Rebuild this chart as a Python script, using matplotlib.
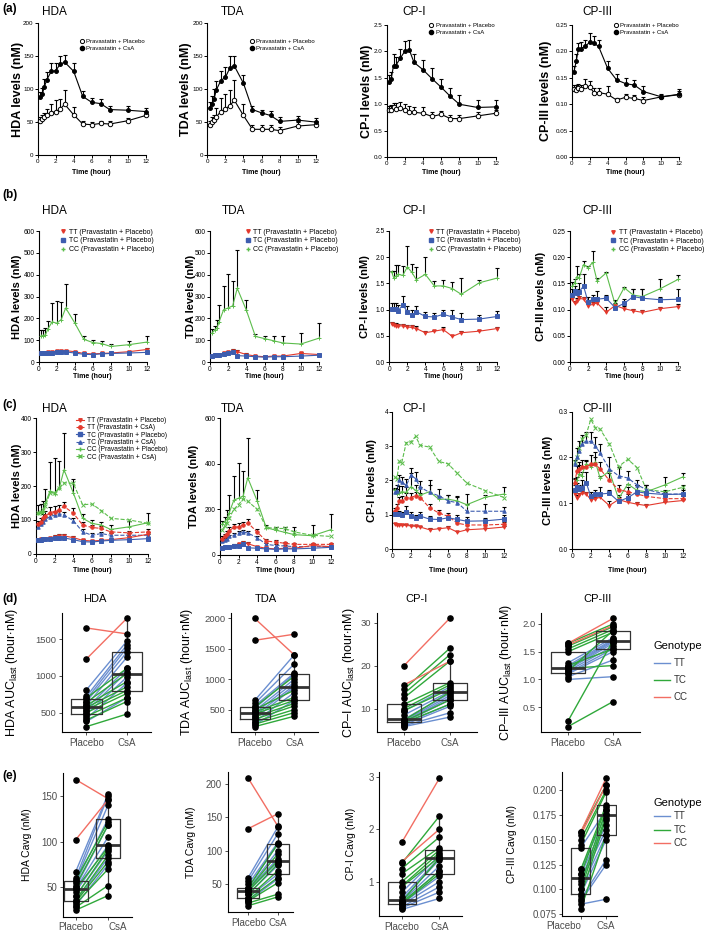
import numpy as np
import matplotlib.pyplot as plt
from matplotlib.lines import Line2D
from matplotlib.ticker import FormatStrFormatter

plt.rcParams['font.family'] = ['Liberation Sans', 'DejaVu Sans']
plt.rcParams['mathtext.fontset'] = 'custom'
plt.rcParams['mathtext.rm'] = 'Liberation Sans'

W, H = 709, 935

# ---------------- time course data ----------------
hours = [0.25, 0.5, 0.75, 1, 1.5, 2, 2.5, 3, 4, 5, 6, 7, 8, 10, 12]

# (a) all subjects: mean and upper SD
hda_plc = [51, 54, 58, 60, 64, 66, 70, 77, 61, 47, 46, 48, 47, 52, 60]
hda_plc_sd = [6, 6, 6, 10, 14, 17, 15, 21, 12, 5, 4, 4, 4, 4, 3]
hda_csa = [88, 92, 104, 114, 127, 128, 138, 141, 127, 89, 80, 78, 69, 68, 66]
hda_csa_sd = [8, 9, 11, 12, 13, 12, 13, 11, 13, 8, 7, 7, 6, 6, 6]

tda_plc = [46, 50, 53, 58, 66, 70, 75, 83, 60, 39, 39, 39, 37, 44, 46]
tda_plc_sd = [5, 7, 8, 14, 20, 22, 24, 31, 17, 7, 7, 7, 6, 6, 6]
tda_csa = [72, 77, 85, 99, 113, 118, 132, 135, 109, 69, 64, 60, 51, 53, 50]
tda_csa_sd = [8, 12, 15, 14, 14, 16, 18, 15, 13, 6, 5, 7, 7, 6, 6]

cp1_plc = [0.90, 0.90, 0.94, 0.92, 0.93, 0.90, 0.85, 0.85, 0.83, 0.77, 0.81, 0.73, 0.73, 0.78, 0.83]
cp1_plc_sd = [0.07, 0.09, 0.08, 0.10, 0.11, 0.10, 0.11, 0.10, 0.12, 0.08, 0.07, 0.07, 0.07, 0.07, 0.06]
cp1_csa = [1.42, 1.48, 1.73, 1.73, 1.87, 2.00, 2.02, 1.79, 1.65, 1.48, 1.32, 1.15, 1.00, 0.94, 0.95]
cp1_csa_sd = [0.13, 0.13, 0.22, 0.17, 0.18, 0.19, 0.19, 0.16, 0.18, 0.20, 0.16, 0.16, 0.17, 0.14, 0.13]

cp3_plc = [0.128, 0.127, 0.130, 0.128, 0.134, 0.132, 0.122, 0.122, 0.119, 0.108, 0.113, 0.111, 0.107, 0.114, 0.118]
cp3_plc_sd = [0.008, 0.009, 0.009, 0.008, 0.013, 0.011, 0.008, 0.008, 0.015, 0.003, 0.006, 0.006, 0.006, 0.005, 0.007]
cp3_csa = [0.161, 0.181, 0.204, 0.205, 0.209, 0.217, 0.215, 0.209, 0.168, 0.146, 0.139, 0.136, 0.124, 0.114, 0.119]
cp3_csa_sd = [0.011, 0.014, 0.012, 0.013, 0.013, 0.017, 0.014, 0.013, 0.014, 0.011, 0.011, 0.010, 0.010, 0.003, 0.009]

# (b) by genotype, placebo phase
hda_tt = [42, 43, 44, 45, 47, 50, 52, 53, 48, 40, 38, 40, 42, 48, 58]
hda_tt_sd = [3, 3, 3, 3, 4, 6, 6, 5, 4, 3, 3, 3, 3, 4, 6]
hda_tc = [40, 42, 43, 44, 44, 46, 48, 47, 42, 36, 35, 38, 40, 42, 45]
hda_tc_sd = [3, 3, 3, 3, 3, 4, 4, 4, 3, 3, 3, 3, 3, 3, 4]
hda_cc = [120, 122, 125, 150, 185, 178, 195, 248, 180, 105, 90, 85, 72, 80, 92]
hda_cc_sd = [25, 26, 30, 40, 87, 104, 80, 110, 42, 13, 10, 10, 13, 18, 30]

tda_tt = [30, 32, 34, 35, 40, 45, 50, 48, 35, 28, 25, 28, 28, 40, 35]
tda_tt_sd = [3, 3, 3, 4, 6, 8, 10, 8, 5, 3, 3, 3, 3, 5, 4]
tda_tc = [30, 32, 33, 34, 38, 40, 45, 30, 28, 25, 23, 25, 25, 28, 32]
tda_tc_sd = [3, 3, 3, 3, 5, 6, 8, 5, 3, 3, 3, 3, 3, 3, 3]
tda_cc = [135, 145, 155, 185, 240, 248, 258, 338, 238, 118, 108, 98, 88, 83, 110]
tda_cc_sd = [15, 20, 40, 77, 108, 154, 112, 177, 47, 12, 12, 24, 32, 49, 70]

cp1_tt = [0.73, 0.70, 0.69, 0.69, 0.69, 0.67, 0.66, 0.64, 0.56, 0.59, 0.62, 0.49, 0.56, 0.59, 0.64]
cp1_tt_sd = [0.04, 0.04, 0.05, 0.04, 0.04, 0.04, 0.04, 0.04, 0.04, 0.03, 0.04, 0.03, 0.03, 0.03, 0.03]
cp1_tc = [1.01, 1.01, 1.02, 0.98, 1.09, 0.96, 0.89, 0.96, 0.87, 0.86, 0.91, 0.86, 0.81, 0.82, 0.87]
cp1_tc_sd = [0.11, 0.11, 0.10, 0.10, 0.16, 0.11, 0.10, 0.11, 0.08, 0.08, 0.09, 0.14, 0.12, 0.08, 0.11]
cp1_cc = [1.72, 1.60, 1.64, 1.67, 1.65, 1.81, 1.71, 1.57, 1.67, 1.45, 1.45, 1.40, 1.29, 1.51, 1.60]
cp1_cc_sd = [0.02, 0.14, 0.20, 0.17, 0.17, 0.40, 0.15, 0.24, 0.33, 0.10, 0.12, 0.12, 0.31, 0.05, 0.20]

cp3_tt = [0.120, 0.112, 0.117, 0.122, 0.120, 0.108, 0.110, 0.113, 0.095, 0.108, 0.102, 0.098, 0.095, 0.102, 0.106]
cp3_tt_sd = [0.005, 0.005, 0.006, 0.005, 0.005, 0.005, 0.004, 0.005, 0.010, 0.005, 0.005, 0.004, 0.004, 0.003, 0.004]
cp3_tc = [0.128, 0.135, 0.132, 0.134, 0.145, 0.115, 0.120, 0.120, 0.122, 0.104, 0.112, 0.125, 0.122, 0.119, 0.120]
cp3_tc_sd = [0.012, 0.010, 0.008, 0.016, 0.023, 0.010, 0.008, 0.015, 0.006, 0.006, 0.008, 0.015, 0.018, 0.006, 0.020]
cp3_cc = [0.145, 0.150, 0.163, 0.160, 0.186, 0.180, 0.190, 0.155, 0.170, 0.110, 0.142, 0.128, 0.125, 0.140, 0.158]
cp3_cc_sd = [0.007, 0.008, 0.021, 0.008, 0.007, 0.003, 0.021, 0.005, 0.001, 0.008, 0.001, 0.012, 0.015, 0.018, 0.008]

# (c) by genotype, CsA phase (placebo phase reused from (b))
hda_tt_csa = [88, 95, 105, 112, 122, 125, 130, 140, 120, 85, 78, 75, 65, 62, 65]
hda_tt_csa_sd = [10, 12, 12, 15, 15, 15, 14, 12, 15, 10, 8, 8, 7, 6, 8]
hda_tc_csa = [80, 88, 95, 102, 110, 115, 118, 115, 98, 65, 55, 60, 55, 55, 55]
hda_tc_csa_sd = [5, 6, 6, 8, 8, 8, 8, 8, 8, 8, 6, 6, 6, 6, 5]
hda_cc_csa = [122, 125, 130, 140, 180, 180, 195, 210, 208, 145, 147, 128, 105, 100, 90]

tda_tt_csa = [70, 80, 90, 105, 120, 122, 130, 140, 100, 60, 55, 50, 45, 45, 45]
tda_tt_csa_sd = [10, 12, 14, 15, 15, 15, 15, 15, 14, 8, 8, 7, 6, 6, 6]
tda_tc_csa = [60, 65, 70, 80, 85, 95, 100, 95, 75, 45, 40, 38, 35, 35, 35]
tda_tc_csa_sd = [6, 6, 8, 8, 8, 10, 10, 10, 8, 6, 5, 5, 5, 5, 5]
tda_cc_csa = [110, 125, 140, 160, 200, 220, 245, 235, 200, 120, 115, 115, 100, 85, 80]

cp1_tt_csa = [1.10, 1.20, 1.40, 1.40, 1.50, 1.50, 1.55, 1.50, 1.20, 1.05, 0.95, 0.75, 0.70, 0.70, 0.72]
cp1_tt_csa_sd = [0.10, 0.12, 0.12, 0.14, 0.14, 0.12, 0.12, 0.12, 0.12, 0.10, 0.10, 0.08, 0.08, 0.08, 0.08]
cp1_tc_csa = [1.65, 1.70, 2.00, 1.95, 1.85, 2.15, 2.05, 1.80, 1.65, 1.55, 1.40, 1.35, 1.10, 1.10, 1.10]
cp1_tc_csa_sd = [0.12, 0.15, 0.15, 0.15, 0.20, 0.20, 0.20, 0.18, 0.20, 0.20, 0.18, 0.18, 0.20, 0.20, 0.12]
cp1_cc_csa = [2.10, 2.05, 2.55, 2.50, 3.10, 3.12, 3.28, 3.02, 2.97, 2.55, 2.48, 2.20, 1.92, 1.70, 1.50]

cp3_tt_csa = [0.145, 0.170, 0.175, 0.180, 0.180, 0.185, 0.185, 0.175, 0.150, 0.130, 0.125, 0.120, 0.115, 0.110, 0.110]
cp3_tt_csa_sd = [0.010, 0.012, 0.015, 0.015, 0.015, 0.020, 0.015, 0.015, 0.015, 0.010, 0.010, 0.010, 0.008, 0.008, 0.006]
cp3_tc_csa = [0.185, 0.200, 0.215, 0.230, 0.235, 0.235, 0.225, 0.210, 0.175, 0.160, 0.155, 0.140, 0.130, 0.120, 0.120]
cp3_tc_csa_sd = [0.010, 0.020, 0.020, 0.020, 0.020, 0.020, 0.020, 0.020, 0.025, 0.020, 0.015, 0.010, 0.010, 0.010, 0.010]
cp3_cc_csa = [0.190, 0.200, 0.220, 0.240, 0.250, 0.283, 0.265, 0.262, 0.230, 0.180, 0.196, 0.178, 0.130, 0.125, 0.135]

# ---------------- individual data for (d) and (e) ----------------
geno = ["TT", "TT", "TT", "TT", "TT", "TT", "TT", "TT", "TT", "TT",
        "TC", "TC", "TC", "TC", "TC", "TC", "TC", "TC", "TC",
        "CC", "CC"]

hda_auc_plc = [810, 720, 680, 650, 600, 560, 520, 480, 420, 380,
               700, 640, 600, 570, 540, 500, 450, 400, 310, 1650, 1230]
hda_auc_csa = [1470, 1420, 1380, 1320, 1250, 1100, 1050, 980, 900, 700,
               1100, 1030, 920, 850, 800, 760, 700, 650, 480, 1570, 1780]
tda_auc_plc = [650, 600, 560, 520, 480, 440, 400, 350, 300, 250,
               540, 500, 460, 430, 380, 340, 300, 260, 220, 2000, 1640]
tda_auc_csa = [1400, 1250, 1100, 1080, 1000, 950, 900, 870, 780, 650,
               1050, 820, 700, 650, 600, 560, 500, 450, 390, 1400, 1740]
cp1_auc_plc = [9.5, 8.5, 7.5, 7.2, 7.0, 6.8, 6.5, 6.2, 6.0, 5.8,
               14.5, 13.5, 12.5, 11.0, 10.0, 9.5, 7.3, 7.0, 6.7, 20.0, 15.5]
cp1_auc_csa = [15.0, 14.0, 13.5, 13.0, 12.5, 12.0, 11.0, 10.5, 9.0, 8.0,
               24.0, 22.5, 21.0, 16.0, 15.5, 14.5, 13.8, 12.0, 11.0, 31.0, 21.0]
cp3_auc_plc = [1.30, 1.25, 1.22, 1.20, 1.18, 1.15, 1.12, 1.10, 1.05, 1.00,
               1.65, 1.60, 1.55, 1.50, 1.25, 1.20, 1.15, 0.25, 0.15, 1.65, 1.62]
cp3_auc_csa = [1.75, 1.72, 1.70, 1.68, 1.65, 1.60, 1.55, 1.50, 1.35, 1.05,
               2.00, 1.95, 1.90, 1.85, 1.55, 1.25, 1.88, 1.70, 0.60, 2.10, 1.97]

hda_cavg_plc = [67, 60, 57, 55, 50, 48, 45, 40, 35, 30,
                58, 52, 48, 40, 36, 34, 32, 28, 25, 168, 102]
hda_cavg_csa = [152, 150, 140, 125, 118, 105, 96, 90, 82, 75,
                122, 118, 94, 92, 85, 78, 70, 52, 41, 147, 146]
tda_cavg_plc = [60, 55, 50, 45, 43, 42, 40, 35, 30, 25,
                45, 42, 40, 35, 30, 27, 25, 22, 18, 208, 133]
tda_cavg_csa = [135, 125, 112, 110, 100, 88, 83, 78, 65, 58,
                110, 95, 85, 80, 70, 60, 52, 35, 31, 137, 155]
cp1_cavg_plc = [0.80, 0.70, 0.65, 0.62, 0.60, 0.58, 0.56, 0.52, 0.50, 0.47,
                1.35, 1.25, 1.15, 1.00, 0.92, 0.90, 0.62, 0.60, 0.58, 1.75, 1.38]
cp1_cavg_csa = [1.50, 1.45, 1.42, 1.30, 1.20, 1.10, 1.00, 0.90, 0.80, 0.68,
                2.25, 1.85, 1.65, 1.60, 1.55, 1.47, 1.45, 1.20, 1.15, 2.97, 2.00]
cp3_cavg_plc = [0.142, 0.120, 0.115, 0.111, 0.108, 0.100, 0.095, 0.090, 0.088, 0.085,
                0.158, 0.150, 0.145, 0.120, 0.115, 0.105, 0.100, 0.093, 0.080, 0.158, 0.155]
cp3_cavg_csa = [0.180, 0.176, 0.170, 0.165, 0.160, 0.155, 0.150, 0.130, 0.125, 0.090,
                0.205, 0.200, 0.198, 0.185, 0.183, 0.180, 0.175, 0.172, 0.155, 0.212, 0.205]

RED, BLUE, GREEN = '#e3392d', '#3d5daf', '#5cbd4c'
GENO_COL = {'TT': '#6b8fd0', 'TC': '#2fa83a', 'CC': '#f26e63'}

fig = plt.figure(figsize=(W / 100, H / 100), dpi=100)


def add_ax(l, t, r, b):
    return fig.add_axes([l / W, 1 - b / H, (r - l) / W, (b - t) / H])


def ftext(x, y, s, **kw):
    fig.text(x / W, 1 - y / H, s, **kw)


def tc_axes(box, ymax, ystep, fmt, ylabel, ylab_x, title, title_xy, xlab_y,
            tick_fs=5, lab_fs=8.5):
    ax = add_ax(*box)
    ax.set_xlim(0, 12)
    ax.set_ylim(0, ymax)
    ax.set_xticks(np.arange(0, 13, 2))
    ax.set_yticks(np.arange(0, ymax + ystep * 0.5, ystep))
    ax.yaxis.set_major_formatter(FormatStrFormatter(fmt))
    for side in ('top', 'right'):
        ax.spines[side].set_visible(False)
    for side in ('left', 'bottom'):
        ax.spines[side].set_linewidth(0.8)
    ax.tick_params(length=2, width=0.7, labelsize=tick_fs, pad=1)
    ax.patch.set_visible(False)
    ftext(ylab_x, (box[1] + box[3]) / 2, ylabel, rotation=90, ha='center',
          va='center', fontsize=lab_fs, fontweight='bold')
    ftext(title_xy[0], title_xy[1], title, ha='center', va='center', fontsize=8.5)
    ftext((box[0] + box[2]) / 2, xlab_y, 'Time (hour)', ha='center', va='center',
          fontsize=5, fontweight='bold')
    return ax


def series(ax, y, sd, color, marker, ms, ls='-', mfc=None):
    y = np.array(y)
    if sd is not None:
        top = y + np.array(sd)
        ax.vlines(hours, y, top, color='k', lw=0.8, zorder=2, clip_on=False)
        ax.plot(hours, top, ls='none', marker='_', ms=3, mew=0.8, color='k',
                zorder=2, clip_on=False)
    ax.plot(hours, y, ls=ls, color=color, lw=0.8, marker=marker, ms=ms,
            mfc=mfc if mfc else color, mec=color, mew=0.7, zorder=3, clip_on=False)


def legend_at(ax, handles, labels, x, y, fs, hl=0.7, ls=0.25):
    ax.legend(handles, labels, loc='upper left', bbox_to_anchor=(x / W, 1 - y / H),
              bbox_transform=fig.transFigure, frameon=False, fontsize=fs,
              handlelength=hl, handletextpad=0.4, labelspacing=ls,
              borderpad=0, borderaxespad=0)


# ---------------- row (a) ----------------
ftext(2, 9, '(a)', fontsize=8.5, fontweight='bold', va='center')
a_specs = [
    ((37.7, 23.3, 145.7, 155), 200, 50, '%d', 'HDA levels (nM)', 17.7, 'HDA', (54, 12),
     hda_plc, hda_plc_sd, hda_csa, hda_csa_sd, (79.5, 38.5)),
    ((207.3, 23.3, 315.7, 155), 200, 50, '%d', 'TDA levels (nM)', 186, 'TDA', (233, 12),
     tda_plc, tda_plc_sd, tda_csa, tda_csa_sd, (249.5, 38.5)),
    ((386.7, 24.7, 495.7, 157.3), 2.5, 0.5, '%.1f', 'CP-I levels (nM)', 367, 'CP-I', (414.5, 12),
     cp1_plc, cp1_plc_sd, cp1_csa, cp1_csa_sd, (429, 23)),
    ((571.7, 24.7, 679.3, 157.3), 0.25, 0.05, '%.2f', 'CP-III levels (nM)', 546, 'CP-III', (597.5, 12),
     cp3_plc, cp3_plc_sd, cp3_csa, cp3_csa_sd, (613.5, 23)),
]
for box, ymax, ystep, fmt, ylab, ylx, title, txy, plc, plc_sd, csa, csa_sd, lxy in a_specs:
    ax = tc_axes(box, ymax, ystep, fmt, ylab, ylx, title, txy, 172, tick_fs=4.5, lab_fs=9)
    series(ax, plc, plc_sd, 'k', 'o', 3.2, mfc='white')
    series(ax, csa, csa_sd, 'k', 'o', 2.8)
    h = [Line2D([], [], ls='none', marker='o', ms=3, mfc='white', mec='k', mew=0.7),
         Line2D([], [], ls='none', marker='o', ms=3, color='k')]
    legend_at(ax, h, ['Pravastatin + Placebo', 'Pravastatin + CsA'], lxy[0], lxy[1], 4.3, ls=0.3)

# ---------------- row (b) ----------------
ftext(2, 195, '(b)', fontsize=8.5, fontweight='bold', va='center')
b_specs = [
    ((38.7, 231, 146.7, 362.2), 600, 100, '%d', 'HDA levels (nM)', 16.7, 'HDA', (54, 210.7),
     hda_tt, hda_tt_sd, hda_tc, hda_tc_sd, hda_cc, hda_cc_sd, (60.5, 228.5)),
    ((210, 231, 319, 362.2), 600, 100, '%d', 'TDA levels (nM)', 190.5, 'TDA', (234, 210.7),
     tda_tt, tda_tt_sd, tda_tc, tda_tc_sd, tda_cc, tda_cc_sd, (245, 228.5)),
    ((389.3, 230.7, 497.3, 362.2), 2.5, 0.5, '%.1f', 'CP-I levels (nM)', 365, 'CP-I', (414, 210.7),
     cp1_tt, cp1_tt_sd, cp1_tc, cp1_tc_sd, cp1_cc, cp1_cc_sd, (428, 228.5)),
    ((570, 231, 678.3, 362.2), 0.25, 0.05, '%.2f', 'CP-III levels (nM)', 541, 'CP-III', (597, 210.7),
     cp3_tt, cp3_tt_sd, cp3_tc, cp3_tc_sd, cp3_cc, cp3_cc_sd, (610.5, 229)),
]
for (box, ymax, ystep, fmt, ylab, ylx, title, txy,
     tt, tt_sd, tc, tc_sd, cc, cc_sd, lxy) in b_specs:
    ax = tc_axes(box, ymax, ystep, fmt, ylab, ylx, title, txy, 377, tick_fs=4.8, lab_fs=8)
    series(ax, cc, cc_sd, GREEN, '+', 3)
    series(ax, tt, tt_sd, RED, 'v', 2.5)
    series(ax, tc, tc_sd, BLUE, 's', 2.5)
    h = [Line2D([], [], ls='none', marker='v', ms=2.5, color=RED),
         Line2D([], [], ls='none', marker='s', ms=2.5, color=BLUE),
         Line2D([], [], ls='none', marker='+', ms=3, color=GREEN)]
    legend_at(ax, h, ['TT (Pravastatin + Placebo)', 'TC (Pravastatin + Placebo)',
                      'CC (Pravastatin + Placebo)'], lxy[0], lxy[1], 5, hl=0.8)

# ---------------- row (c) ----------------
ftext(2, 405, '(c)', fontsize=8.5, fontweight='bold', va='center')
c_specs = [
    ((36, 418.3, 148, 553.9), 400, 100, '%d', 'HDA levels (nM)', 16.7, 'HDA', (54, 409),
     (hda_tt, hda_tt_sd, hda_tt_csa, hda_tt_csa_sd, hda_tc, hda_tc_sd, hda_tc_csa,
      hda_tc_csa_sd, hda_cc, hda_cc_sd, hda_cc_csa)),
    ((220, 418.3, 331, 554.6), 600, 200, '%d', 'TDA levels (nM)', 194, 'TDA', (233, 409),
     (tda_tt, tda_tt_sd, tda_tt_csa, tda_tt_csa_sd, tda_tc, tda_tc_sd, tda_tc_csa,
      tda_tc_csa_sd, tda_cc, tda_cc_sd, tda_cc_csa)),
    ((392.3, 411.7, 504, 549), 4, 1, '%d', 'CP-I levels (nM)', 372, 'CP-I', (414, 409),
     (cp1_tt, cp1_tt_sd, cp1_tt_csa, cp1_tt_csa_sd, cp1_tc, cp1_tc_sd, cp1_tc_csa,
      cp1_tc_csa_sd, cp1_cc, cp1_cc_sd, cp1_cc_csa)),
    ((572.3, 411.7, 683.3, 549), 0.3, 0.1, '%.1f', 'CP-III levels (nM)', 547.7, 'CP-III', (597, 409),
     (cp3_tt, cp3_tt_sd, cp3_tt_csa, cp3_tt_csa_sd, cp3_tc, cp3_tc_sd, cp3_tc_csa,
      cp3_tc_csa_sd, cp3_cc, cp3_cc_sd, cp3_cc_csa)),
]
c_labels = ['TT (Pravastatin + Placebo)', 'TT (Pravastatin + CsA)',
            'TC (Pravastatin + Placebo)', 'TC (Pravastatin + CsA)',
            'CC (Pravastatin + Placebo)', 'CC (Pravastatin + CsA)']
for i, (box, ymax, ystep, fmt, ylab, ylx, title, txy, d) in enumerate(c_specs):
    ax = tc_axes(box, ymax, ystep, fmt, ylab, ylx, title, txy, 570, tick_fs=4.8, lab_fs=8)
    tt, tt_sd, tt_c, tt_c_sd, tc, tc_sd, tc_c, tc_c_sd, cc, cc_sd, cc_c = d
    series(ax, cc_c, None, GREEN, 'x', 2.2, ls='--')
    series(ax, cc, cc_sd, GREEN, '+', 3)
    series(ax, tc_c, tc_c_sd, BLUE, '^', 2.5, ls='--')
    series(ax, tt_c, tt_c_sd, RED, 'o', 2.5, ls='--')
    series(ax, tt, tt_sd, RED, 'v', 2.5)
    series(ax, tc, tc_sd, BLUE, 's', 2.5)
    if i == 0:
        h = [Line2D([], [], color=RED, lw=0.8, marker='v', ms=2.5),
             Line2D([], [], color=RED, lw=0.8, ls='--', marker='o', ms=2.5),
             Line2D([], [], color=BLUE, lw=0.8, marker='s', ms=2.5),
             Line2D([], [], color=BLUE, lw=0.8, ls='--', marker='^', ms=2.5),
             Line2D([], [], color=GREEN, lw=0.8, marker='+', ms=3),
             Line2D([], [], color=GREEN, lw=0.8, ls='--', marker='x', ms=2.2)]
        legend_at(ax, h, c_labels, 75.5, 417, 4.8, hl=1.3, ls=0.05)


# ---------------- rows (d) and (e) ----------------
def paired(box, plc, csa, xlim, yticks, yfmt, ylabel, ylab_x, lab_fs,
           title=None, title_x=None, tick_fs=7, plc_ha='center', csa_ha='center'):
    ax = add_ax(*box)
    plc = np.array(plc)
    csa = np.array(csa)
    allv = np.concatenate([plc, csa])
    pad = 0.05 * (allv.max() - allv.min())
    ax.set_ylim(allv.min() - pad, allv.max() + pad)
    ax.set_xlim(*xlim)
    for g, p, c in zip(geno, plc, csa):
        ax.plot([1, 2], [p, c], color=GENO_COL[g], lw=1.0, zorder=2)
    ax.boxplot([plc, csa], positions=[1, 2], widths=0.75, showfliers=False,
               showcaps=False, zorder=3,
               boxprops=dict(color='#333333', lw=0.9),
               whiskerprops=dict(color='#333333', lw=0.9),
               medianprops=dict(color='#333333', lw=2.0))
    ax.scatter(np.ones(len(plc)), plc, s=14, color='k', zorder=4, clip_on=False)
    ax.scatter(np.full(len(csa), 2), csa, s=14, color='k', zorder=4, clip_on=False)
    ax.set_xticks([1, 2], ['Placebo', 'CsA'])
    labs = ax.get_xticklabels()
    labs[0].set_ha(plc_ha)
    labs[1].set_ha(csa_ha)
    ax.set_yticks(yticks)
    ax.yaxis.set_major_formatter(FormatStrFormatter(yfmt))
    for side in ('top', 'right'):
        ax.spines[side].set_visible(False)
    for side in ('left', 'bottom'):
        ax.spines[side].set_linewidth(0.8)
    ax.tick_params(length=2.5, width=0.6, color='#333333', labelsize=tick_fs,
                   labelcolor='#4d4d4d', pad=1.5)
    ax.tick_params(axis='x', labelsize=7)
    ax.patch.set_visible(False)
    ftext(ylab_x, (box[1] + box[3]) / 2, ylabel, rotation=90, ha='center',
          va='center', fontsize=lab_fs)
    if title:
        ftext(title_x, 599, title, ha='center', va='center', fontsize=8)
    return ax


ftext(2, 599, '(d)', fontsize=8.5, fontweight='bold', va='center')
paired((62.3, 613, 151, 732), hda_auc_plc, hda_auc_csa, (0.4, 2.6), [500, 1000, 1500], '%d',
       r'HDA AUC$_{\mathregular{last}}$ (hour$\cdot$nM)', 12.5, 9, 'HDA', 95, tick_fs=6.8)
paired((231, 613, 318, 732), tda_auc_plc, tda_auc_csa, (0.4, 2.6), [500, 1000, 1500, 2000], '%d',
       r'TDA AUC$_{\mathregular{last}}$ (hour$\cdot$nM)', 187.5, 9, 'TDA', 266, tick_fs=6.8)
paired((376.7, 613, 477, 732), cp1_auc_plc, cp1_auc_csa, (0.4, 2.6), [10, 20, 30], '%d',
       r'CP–I AUC$_{\mathregular{last}}$ (hour$\cdot$nM)', 349, 9, 'CP-I', 416, tick_fs=6.8)
paired((541, 613, 640, 732), cp3_auc_plc, cp3_auc_csa, (0.4, 2.6), [0.5, 1.0, 1.5, 2.0], '%.1f',
       r'CP–III AUC$_{\mathregular{last}}$ (hour$\cdot$nM)', 506, 9, 'CP-III', 597, tick_fs=6.8)

ftext(2, 776, '(e)', fontsize=8.5, fontweight='bold', va='center')
paired((62.7, 773, 131.7, 916.7), hda_cavg_plc, hda_cavg_csa, (0.6, 2.73), [50, 100, 150], '%d',
       'HDA Cavg (nM)', 27, 7.5, csa_ha='left')
paired((227.7, 772, 293, 912), tda_cavg_plc, tda_cavg_csa, (0.3, 2.52), [50, 100, 150, 200], '%d',
       'TDA Cavg (nM)', 191, 7.5)
paired((379.3, 771.7, 462, 916), cp1_cavg_plc, cp1_cavg_csa, (0.4, 2.6), [1, 2, 3], '%d',
       'CP-I Cavg (nM)', 351, 7.5)
paired((562.3, 771.7, 617, 915.7), cp3_cavg_plc, cp3_cavg_csa, (0.27, 2.43),
       [0.075, 0.100, 0.125, 0.150, 0.175, 0.200], '%.3f', 'CP-III Cavg (nM)', 511.7, 7.5,
       plc_ha='right')

# genotype legends
for ty, ys in ((646, (663, 680, 697)), (803, (816, 830, 843))):
    ftext(653, ty, 'Genotype', fontsize=8, va='center')
    for g, yy in zip(('TT', 'TC', 'CC'), ys):
        fig.add_artist(Line2D([654 / W, 670 / W], [1 - yy / H, 1 - yy / H],
                              color=GENO_COL[g], lw=1.0))
        ftext(674, yy, g, fontsize=7, va='center', color='#333333')

fig.savefig('out.png', dpi=100)
